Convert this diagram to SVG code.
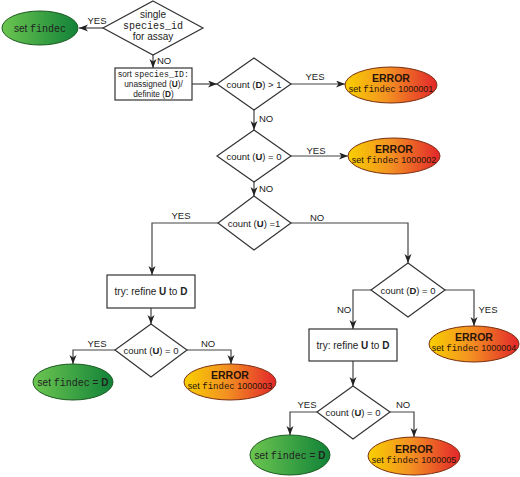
<svg xmlns="http://www.w3.org/2000/svg" width="520" height="477" viewBox="0 0 520 477">
<defs>
<linearGradient id="errGrad" x1="0" y1="0" x2="1" y2="0">
<stop offset="0" stop-color="#f8cf00"/>
<stop offset="0.45" stop-color="#f39322"/>
<stop offset="1" stop-color="#e3262b"/>
</linearGradient>
<linearGradient id="okGrad" x1="0" y1="0" x2="1" y2="0">
<stop offset="0" stop-color="#6cc650"/>
<stop offset="1" stop-color="#118238"/>
</linearGradient>
<marker id="arr" markerUnits="userSpaceOnUse" markerWidth="10" markerHeight="8" refX="9" refY="3.5" orient="auto">
<path d="M0,0 L9,3.5 L0,7 L2.5,3.5 z" fill="#222"/>
</marker>
<style>
.dia{fill:#fff;stroke:#333;stroke-width:1.2}
.box{fill:#fff;stroke:#333;stroke-width:1.2}
.err{fill:url(#errGrad);stroke:#7a3012;stroke-width:1}
.ok{fill:url(#okGrad);stroke:#1d5a22;stroke-width:1}
.t{font-family:"Liberation Sans",Arial,sans-serif;font-size:9.5px;fill:#222;text-anchor:middle}
.t10{font-size:10px}
.t85{font-size:8.3px}
.lbl{font-family:"Liberation Sans",Arial,sans-serif;font-size:9.5px;fill:#222}
.m{font-family:"Liberation Mono","Courier New",monospace}
.b{font-weight:bold}
.et{font-family:"Liberation Sans",Arial,sans-serif;font-size:10.5px;font-weight:bold;fill:#2a1408;text-anchor:middle}
.es{font-family:"Liberation Sans",Arial,sans-serif;font-size:9px;fill:#2a1408;text-anchor:middle}
.c{fill:none;stroke:#444;stroke-width:1.2;marker-end:url(#arr)}
</style>
</defs>

<g id="connectors">
<path class="c" d="M103,28 H79"/>
<path class="c" d="M153,55 V68"/>
<path class="c" d="M192,84 H217"/>
<path class="c" d="M291,84 H345"/>
<path class="c" d="M254,110 V130"/>
<path class="c" d="M291,156 H348"/>
<path class="c" d="M254,182 V196"/>
<path class="c" d="M218,223 H152 V275"/>
<path class="c" d="M291,223 H408 V263"/>
<path class="c" d="M151,308 V324"/>
<path class="c" d="M115,350 H73 V364"/>
<path class="c" d="M187,350 H231 V364"/>
<path class="c" d="M371,290 H353 V329"/>
<path class="c" d="M445,290 H474 V326"/>
<path class="c" d="M353,361 V386"/>
<path class="c" d="M317,412 H290 V435"/>
<path class="c" d="M390,412 H414 V437"/>
<text class="lbl" x="97" y="24" text-anchor="middle">YES</text>
<text class="lbl" x="157" y="64">NO</text>
<text class="lbl" x="315" y="80" text-anchor="middle">YES</text>
<text class="lbl" x="259" y="122">NO</text>
<text class="lbl" x="316" y="154" text-anchor="middle">YES</text>
<text class="lbl" x="259" y="192">NO</text>
<text class="lbl" x="181" y="219" text-anchor="middle">YES</text>
<text class="lbl" x="317" y="221" text-anchor="middle">NO</text>
<text class="lbl" x="344" y="313" text-anchor="middle">NO</text>
<text class="lbl" x="488" y="313" text-anchor="middle">YES</text>
<text class="lbl" x="97" y="347" text-anchor="middle">YES</text>
<text class="lbl" x="208" y="347" text-anchor="middle">NO</text>
<text class="lbl" x="307" y="408" text-anchor="middle">YES</text>
<text class="lbl" x="403" y="408" text-anchor="middle">NO</text>
</g>

<g id="q-single">
<polygon class="dia" points="153,1 203,28 153,55 103,28"/>
<text class="t t10" x="153" y="18">single</text>
<text class="t t10" x="153" y="29"><tspan class="m">species_id</tspan></text>
<text class="t t10" x="153" y="40">for assay</text>
</g>

<g id="ok-findec">
<ellipse class="ok" cx="40" cy="28" rx="38" ry="17"/>
<text class="t t10" x="40" y="31.5">set <tspan class="m">findec</tspan></text>
</g>

<g id="sort">
<rect class="box" x="115" y="68" width="77" height="32"/>
<text class="t t85" x="153.5" y="76.5">sort <tspan class="m">species_ID:</tspan></text>
<text class="t t85" x="153.5" y="87">unassigned (<tspan class="b">U</tspan>)/</text>
<text class="t t85" x="153.5" y="97">definite (<tspan class="b">D</tspan>)</text>
</g>

<g id="q-d-gt1">
<polygon class="dia" points="254,58 291,84 254,110 217,84"/>
<text class="t" x="254" y="87.5">count (<tspan class="b">D</tspan>) &gt; 1</text>
</g>

<g id="err1">
<ellipse class="err" cx="391" cy="85" rx="46" ry="18"/>
<text class="et" x="391" y="82">ERROR</text>
<text class="es" x="391" y="92">set <tspan class="m">findec</tspan> 1000001</text>
</g>

<g id="q-u-eq0">
<polygon class="dia" points="254,130 291,156 254,182 217,156"/>
<text class="t" x="254" y="159.5">count (<tspan class="b">U</tspan>) = 0</text>
</g>

<g id="err2">
<ellipse class="err" cx="394" cy="156" rx="46" ry="18"/>
<text class="et" x="394" y="153">ERROR</text>
<text class="es" x="394" y="163">set <tspan class="m">findec</tspan> 1000002</text>
</g>

<g id="q-u-eq1">
<polygon class="dia" points="254,196 291,223 254,250 218,223"/>
<text class="t" x="254" y="226.5">count (<tspan class="b">U</tspan>) =1</text>
</g>

<g id="refine-left">
<rect class="box" x="107" y="275" width="88" height="33"/>
<text class="t t10" x="151" y="295">try: refine <tspan class="b">U</tspan> to <tspan class="b">D</tspan></text>
</g>

<g id="q-u-eq0-left">
<polygon class="dia" points="151,324 187,350 151,377 115,350"/>
<text class="t" x="151" y="353.5">count (<tspan class="b">U</tspan>) = 0</text>
</g>

<g id="ok-left">
<ellipse class="ok" cx="73" cy="382" rx="40" ry="18"/>
<text class="t t10" x="73" y="385.5">set <tspan class="m">findec</tspan> = <tspan class="b">D</tspan></text>
</g>

<g id="err3">
<ellipse class="err" cx="230" cy="382" rx="46" ry="18"/>
<text class="et" x="230" y="379">ERROR</text>
<text class="es" x="230" y="389">set <tspan class="m">findec</tspan> 1000003</text>
</g>

<g id="q-d-eq0">
<polygon class="dia" points="408,263 445,290 408,317 371,290"/>
<text class="t" x="408" y="293.5">count (<tspan class="b">D</tspan>) = 0</text>
</g>

<g id="err4">
<ellipse class="err" cx="474" cy="344" rx="45" ry="18"/>
<text class="et" x="474" y="341">ERROR</text>
<text class="es" x="474" y="351">set <tspan class="m">findec</tspan> 1000004</text>
</g>

<g id="refine-right">
<rect class="box" x="309" y="329" width="88" height="32"/>
<text class="t t10" x="353" y="348.5">try: refine <tspan class="b">U</tspan> to <tspan class="b">D</tspan></text>
</g>

<g id="q-u-eq0-right">
<polygon class="dia" points="353,386 390,412 353,439 317,412"/>
<text class="t" x="353" y="415.5">count (<tspan class="b">U</tspan>) = 0</text>
</g>

<g id="ok-right">
<ellipse class="ok" cx="290" cy="455" rx="40" ry="20"/>
<text class="t t10" x="290" y="458.5">set <tspan class="m">findec</tspan> = <tspan class="b">D</tspan></text>
</g>

<g id="err5">
<ellipse class="err" cx="414" cy="456" rx="46" ry="19"/>
<text class="et" x="414" y="453">ERROR</text>
<text class="es" x="414" y="463">set <tspan class="m">findec</tspan> 1000005</text>
</g>
</svg>
